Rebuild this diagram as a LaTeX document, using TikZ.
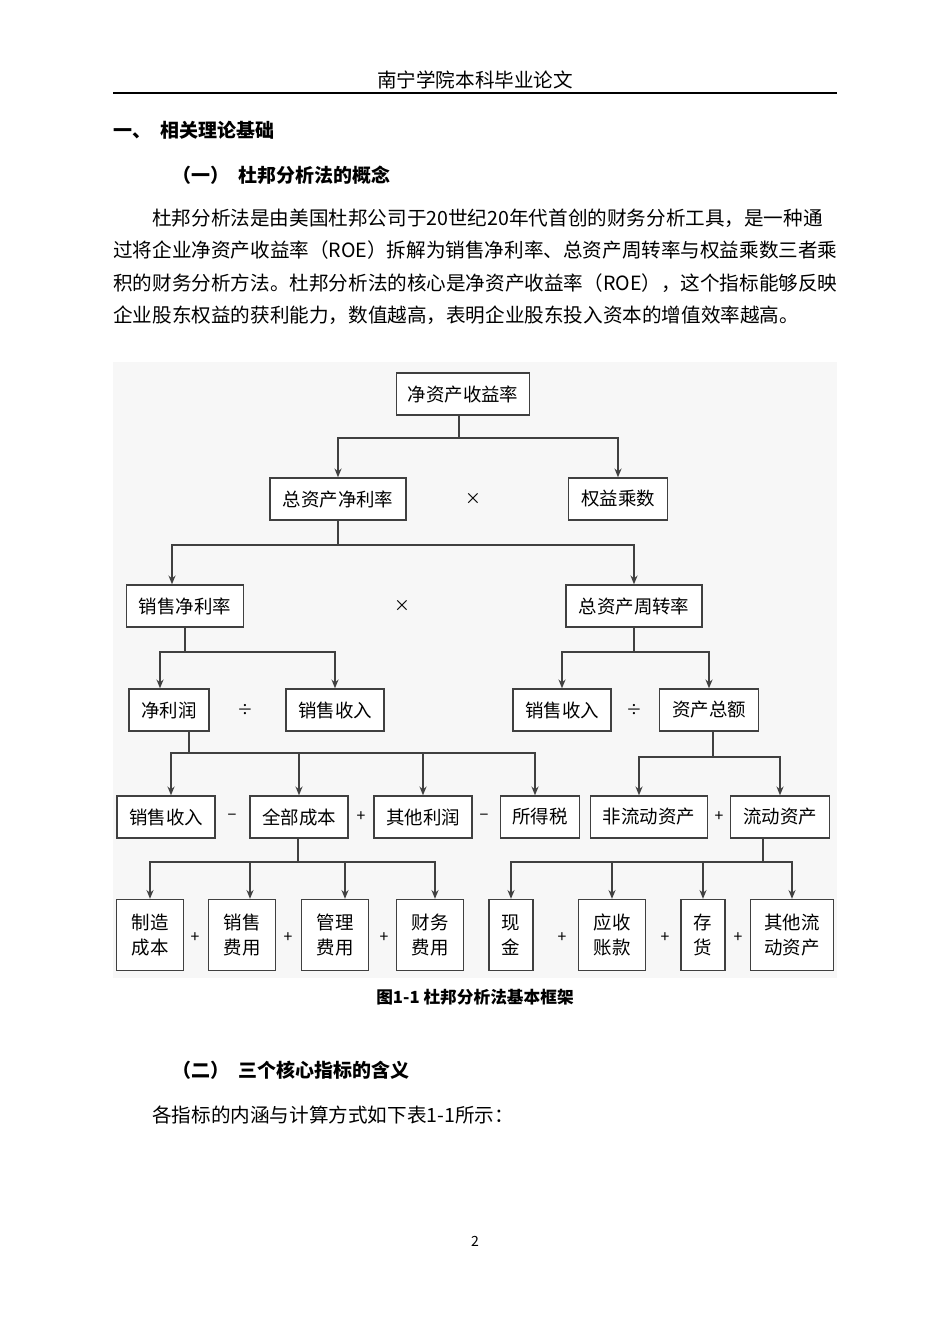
\documentclass[tikz,border=0pt]{standalone}
\usepackage{fontspec}
\setmainfont{Noto Sans CJK SC}
\usetikzlibrary{positioning, arrows.meta}

\begin{document}
\begin{tikzpicture}[
    x=0.02cm, y=-0.02cm,
    font=\fontsize{10.5}{12}\selectfont,
    % Styles
    box/.style={
        draw=black!75,
        line width=0.8pt,
        fill=white,
        minimum height=0.84cm,
        inner sep=1pt,
        align=center
    },
    tall/.style={box, minimum height=1.42cm, font=\fontsize{10.5}{14}\selectfont},
    op/.style={font=\fontsize{9}{10}\selectfont},
    body/.style={anchor=west, inner sep=0pt, font=\fontsize{11.15}{13}\selectfont},
    head/.style={body, font=\bfseries\fontsize{10.8}{13}\selectfont},
    arrow/.style={-{Stealth[length=5pt,width=4pt]}, draw=black!75, line width=0.8pt},
    link/.style={draw=black!75, line width=0.8pt}
]
    \useasboundingbox (0,0) rectangle (950,1344);
    \fill[black!3] (113,362) rectangle (837,978);

    % --- PAGE TEXT ---
    \node[body, anchor=center] (hdr) at (475,80) {南宁学院本科毕业论文};
    \draw[line width=0.8pt] (113,93) -- (837,93);
    \node[head] (sec) at (113,130) {一、\enspace 相关理论基础};
    \node[head] (sub1) at (172,175) {（一）\enspace 杜邦分析法的概念};
    \node[body] (p1) at (152,218) {杜邦分析法是由美国杜邦公司于20世纪20年代首创的财务分析工具，是一种通};
    \node[body] (p2) at (113,250) {过将企业净资产收益率（ROE）拆解为销售净利率、总资产周转率与权益乘数三者乘};
    \node[body] (p3) at (113,283) {积的财务分析方法。杜邦分析法的核心是净资产收益率（ROE），这个指标能够反映};
    \node[body] (p4) at (113,315) {企业股东权益的获利能力，数值越高，表明企业股东投入资本的增值效率越高。};

    % --- LEVEL 1 / 2 ---
    \node[box, minimum width=2.66cm] (roe) at (463,394) {净资产收益率};
    \node[op] (x1) at (473,499) {×};
    \node[box, minimum width=2.72cm] (zjl) at (338,499) {总资产净利率};
    \node[box, minimum width=1.98cm] (qycs) at (618,499) {权益乘数};

    % --- LEVEL 3 ---
    \node[box, minimum width=2.34cm] (xjl) at (185,606) {销售净利率};
    \node[op] (x2) at (402,606) {×};
    \node[box, minimum width=2.72cm] (zzl) at (634,606) {总资产周转率};

    % --- LEVEL 4 ---
    \node[box, minimum width=1.6cm] (jlr) at (169,710) {净利润};
    \node[op] (d1) at (245,710) {÷};
    \node[box, minimum width=1.96cm] (xs1) at (335,710) {销售收入};
    \node[box, minimum width=1.96cm] (xs2) at (562,710) {销售收入};
    \node[op] (d2) at (634,710) {÷};
    \node[box, minimum width=1.98cm] (zcze) at (709,710) {资产总额};

    % --- LEVEL 5 ---
    \node[box, minimum width=1.96cm] (xs3) at (166,817) {销售收入};
    \node[op] (m1) at (232,817) {−};
    \node[box, minimum width=1.96cm] (qbcb) at (299,817) {全部成本};
    \node[op] (a1) at (361,817) {+};
    \node[box, minimum width=1.96cm] (qtlr) at (423,817) {其他利润};
    \node[op] (m2) at (484,817) {−};
    \node[box, minimum width=1.58cm] (sds) at (540,817) {所得税};
    \node[box, minimum width=2.34cm] (fldzc) at (649,817) {非流动资产};
    \node[op] (a2) at (719,817) {+};
    \node[box, minimum width=1.98cm] (ldzc) at (780,817) {流动资产};

    % --- LEVEL 6 ---
    \node[tall, minimum width=1.34cm] (zzcb) at (150,935) {制造\\成本};
    \node[op] (a3) at (195,938) {+};
    \node[tall, minimum width=1.34cm] (xsfy) at (242,935) {销售\\费用};
    \node[op] (a4) at (288,938) {+};
    \node[tall, minimum width=1.34cm] (glfy) at (335,935) {管理\\费用};
    \node[op] (a5) at (384,938) {+};
    \node[tall, minimum width=1.34cm] (cwfy) at (430,935) {财务\\费用};
    \node[tall, minimum width=0.88cm] (xj) at (511,935) {现\\金};
    \node[op] (a6) at (562,938) {+};
    \node[tall, minimum width=1.34cm] (yszk) at (612,935) {应收\\账款};
    \node[op] (a7) at (665,938) {+};
    \node[tall, minimum width=0.88cm] (ch) at (703,935) {存\\货};
    \node[op] (a8) at (738,938) {+};
    \node[tall, minimum width=1.66cm] (qtld) at (792,935) {其他流\\动资产};

    % --- CONNECTORS ---
    \coordinate (j1) at (459,438);
    \coordinate (j2) at (338,545);
    \coordinate (j3) at (185,652);
    \coordinate (j4) at (634,652);
    \coordinate (j5) at (189,753);
    \coordinate (j6) at (713,757);
    \coordinate (j7) at (298,862);
    \coordinate (j8) at (763,862);

    \draw[link] (roe.south-|j1) -- (j1);
    \draw[arrow] (j1) -| (zjl.north);
    \draw[arrow] (j1) -| (qycs.north);
    \draw[link] (zjl) -- (j2);
    \draw[arrow] (j2) -| ([xshift=-0.26cm]xjl.north);
    \draw[arrow] (j2) -| (zzl.north);
    \draw[link] (xjl) -- (j3);
    \draw[arrow] (j3) -| ([xshift=-0.18cm]jlr.north);
    \draw[arrow] (j3) -| (xs1.north);
    \draw[link] (zzl) -- (j4);
    \draw[arrow] (j4) -| (xs2.north);
    \draw[arrow] (j4) -| (zcze.north);
    \draw[link] (jlr.south-|j5) -- (j5);
    \draw[arrow] (j5) -| ([xshift=0.1cm]xs3.north);
    \draw[arrow] (j5) -| (qbcb.north);
    \draw[arrow] (j5) -| (qtlr.north);
    \draw[arrow] (j5) -| ([xshift=-0.1cm]sds.north);
    \draw[link] (zcze.south-|j6) -- (j6);
    \draw[arrow] (j6) -| ([xshift=-0.2cm]fldzc.north);
    \draw[arrow] (j6) -| (ldzc.north);
    \draw[link] (qbcb.south-|j7) -- (j7);
    \draw[arrow] (j7) -| (zzcb.north);
    \draw[arrow] (j7) -| ([xshift=0.16cm]xsfy.north);
    \draw[arrow] (j7) -| ([xshift=0.2cm]glfy.north);
    \draw[arrow] (j7) -| ([xshift=0.1cm]cwfy.north);
    \draw[link] (ldzc.south-|j8) -- (j8);
    \draw[arrow] (j8) -| (xj.north);
    \draw[arrow] (j8) -| (yszk.north);
    \draw[arrow] (j8) -| (ch.north);
    \draw[arrow] (j8) -| (qtld.north);

    % --- CAPTION AND REST ---
    \node[font=\bfseries\fontsize{9.5}{11}\selectfont] (cap) at (475,997) {图1-1 杜邦分析法基本框架};
    \node[head] (sub2) at (172,1070) {（二）\enspace 三个核心指标的含义};
    \node[body] (p5) at (152,1115) {各指标的内涵与计算方式如下表1-1所示：};
    \node[font=\fontsize{8}{10}\selectfont] (pg) at (475,1241) {2};
\end{tikzpicture}
\end{document}
